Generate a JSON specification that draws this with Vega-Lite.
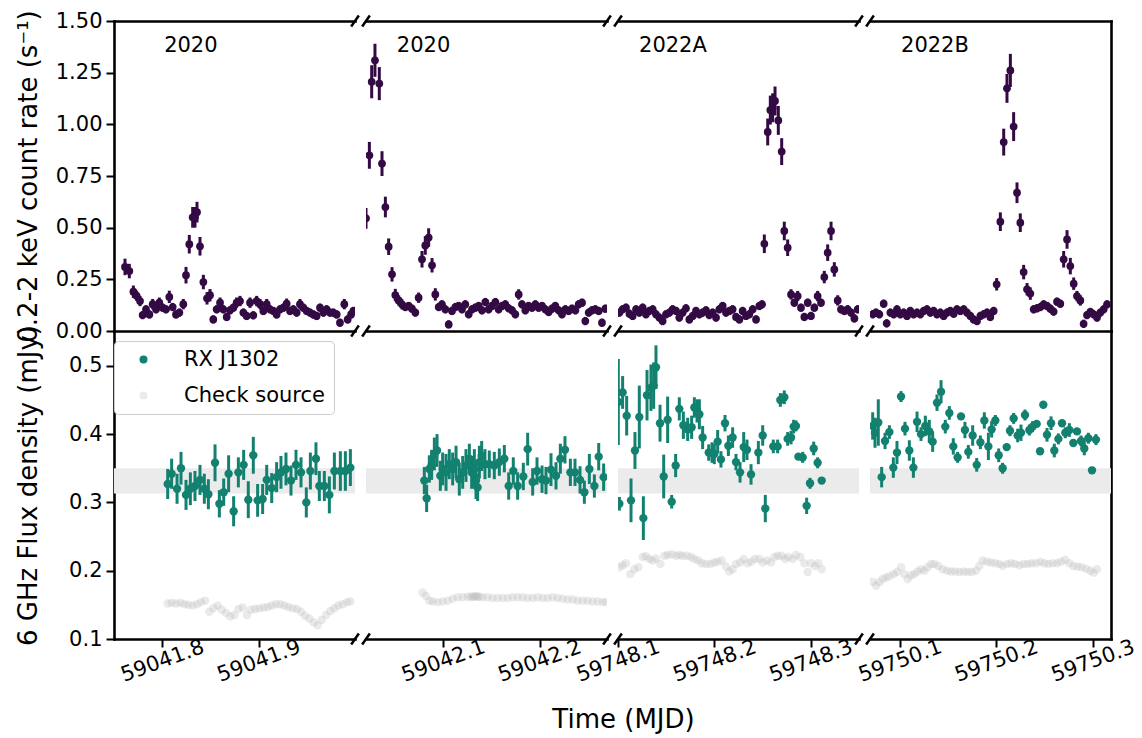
{
"$schema":"https://vega.github.io/schema/vega-lite/v6.json",
"padding":{"left":14,"top":9,"right":5,"bottom":5},
"background":"white",
"config":{
 "font":"DejaVu Sans",
 "view":{"stroke":null},
 "axis":{"grid":false,"domainColor":"black","domainWidth":2.6,"domainCap":"square","tickColor":"black","tickWidth":2,"tickSize":8,"labelColor":"black","labelFont":"DejaVu Sans","labelFontSize":21,"labelPadding":4,"labelFlush":false,"labelOverlap":false,"titleColor":"black","titleFont":"DejaVu Sans","titleFontSize":26,"titleFontWeight":"normal"}
},
"datasets":{
"xray":[
{"p":1,"t":59041.7614,"v":0.31,"e":0.04},{"p":1,"t":59041.7659,"v":0.29,"e":0.035},{"p":1,"t":59041.7701,"v":0.19,"e":0.03},{"p":1,"t":59041.7735,"v":0.17,"e":0.025},{"p":1,"t":59041.777,"v":0.145,"e":0.025},{"p":1,"t":59041.7797,"v":0.077,"e":0.02},{"p":1,"t":59041.7832,"v":0.105,"e":0.02},{"p":1,"t":59041.7867,"v":0.08,"e":0.02},{"p":1,"t":59041.7901,"v":0.13,"e":0.025},{"p":1,"t":59041.7936,"v":0.105,"e":0.02},{"p":1,"t":59041.797,"v":0.137,"e":0.025},{"p":1,"t":59041.8005,"v":0.113,"e":0.02},{"p":1,"t":59041.8039,"v":0.105,"e":0.02},{"p":1,"t":59041.8074,"v":0.165,"e":0.03},{"p":1,"t":59041.8109,"v":0.116,"e":0.02},{"p":1,"t":59041.8143,"v":0.08,"e":0.02},{"p":1,"t":59041.8178,"v":0.089,"e":0.02},{"p":1,"t":59041.8219,"v":0.13,"e":0.025},{"p":1,"t":59041.8247,"v":0.27,"e":0.04},{"p":1,"t":59041.8281,"v":0.42,"e":0.045},{"p":1,"t":59041.8316,"v":0.55,"e":0.05},{"p":1,"t":59041.834,"v":0.55,"e":0.05},{"p":1,"t":59041.8361,"v":0.575,"e":0.05},{"p":1,"t":59041.8392,"v":0.41,"e":0.045},{"p":1,"t":59041.8427,"v":0.237,"e":0.035},{"p":1,"t":59041.8465,"v":0.158,"e":0.03},{"p":1,"t":59041.8496,"v":0.173,"e":0.03},{"p":1,"t":59041.853,"v":0.056,"e":0.02},{"p":1,"t":59041.8565,"v":0.105,"e":0.02},{"p":1,"t":59041.86,"v":0.137,"e":0.025},{"p":1,"t":59041.8634,"v":0.105,"e":0.02},{"p":1,"t":59041.8669,"v":0.068,"e":0.02},{"p":1,"t":59041.8703,"v":0.1,"e":0.02},{"p":1,"t":59041.8738,"v":0.113,"e":0.02},{"p":1,"t":59041.8772,"v":0.137,"e":0.025},{"p":1,"t":59041.8807,"v":0.145,"e":0.025},{"p":1,"t":59041.8842,"v":0.089,"e":0.02},{"p":1,"t":59041.8876,"v":0.073,"e":0.02},{"p":1,"t":59041.8911,"v":0.137,"e":0.025},{"p":1,"t":59041.8945,"v":0.076,"e":0.02},{"p":1,"t":59041.898,"v":0.145,"e":0.025},{"p":1,"t":59041.9015,"v":0.13,"e":0.025},{"p":1,"t":59041.9049,"v":0.097,"e":0.02},{"p":1,"t":59041.9084,"v":0.13,"e":0.025},{"p":1,"t":59041.9118,"v":0.105,"e":0.02},{"p":1,"t":59041.9153,"v":0.097,"e":0.02},{"p":1,"t":59041.9187,"v":0.08,"e":0.02},{"p":1,"t":59041.9222,"v":0.105,"e":0.02},{"p":1,"t":59041.9257,"v":0.113,"e":0.02},{"p":1,"t":59041.9291,"v":0.132,"e":0.025},{"p":1,"t":59041.9326,"v":0.097,"e":0.02},{"p":1,"t":59041.936,"v":0.105,"e":0.02},{"p":1,"t":59041.9395,"v":0.089,"e":0.02},{"p":1,"t":59041.9429,"v":0.13,"e":0.025},{"p":1,"t":59041.9464,"v":0.113,"e":0.02},{"p":1,"t":59041.9499,"v":0.097,"e":0.02},{"p":1,"t":59041.9533,"v":0.089,"e":0.02},{"p":1,"t":59041.9568,"v":0.08,"e":0.02},{"p":1,"t":59041.9602,"v":0.073,"e":0.02},{"p":1,"t":59041.9637,"v":0.113,"e":0.02},{"p":1,"t":59041.9672,"v":0.089,"e":0.02},{"p":1,"t":59041.9706,"v":0.105,"e":0.02},{"p":1,"t":59041.9741,"v":0.089,"e":0.02},{"p":1,"t":59041.9775,"v":0.089,"e":0.02},{"p":1,"t":59041.981,"v":0.08,"e":0.02},{"p":1,"t":59041.9844,"v":0.04,"e":0.02},{"p":1,"t":59041.9889,"v":0.13,"e":0.025},{"p":1,"t":59041.9924,"v":0.056,"e":0.02},{"p":1,"t":59041.9959,"v":0.08,"e":0.02},{"p":1,"t":59041.9983,"v":0.097,"e":0.02},
{"p":2,"t":59042.02,"v":0.545,"e":0.05},{"p":2,"t":59042.0235,"v":0.85,"e":0.065},{"p":2,"t":59042.0259,"v":1.206,"e":0.08},{"p":2,"t":59042.0293,"v":1.31,"e":0.08},{"p":2,"t":59042.0338,"v":1.197,"e":0.08},{"p":2,"t":59042.0366,"v":0.81,"e":0.06},{"p":2,"t":59042.0401,"v":0.6,"e":0.05},{"p":2,"t":59042.0435,"v":0.408,"e":0.04},{"p":2,"t":59042.047,"v":0.274,"e":0.035},{"p":2,"t":59042.0504,"v":0.174,"e":0.03},{"p":2,"t":59042.0539,"v":0.148,"e":0.025},{"p":2,"t":59042.0573,"v":0.129,"e":0.025},{"p":2,"t":59042.0608,"v":0.116,"e":0.02},{"p":2,"t":59042.0643,"v":0.121,"e":0.02},{"p":2,"t":59042.0677,"v":0.108,"e":0.02},{"p":2,"t":59042.0712,"v":0.089,"e":0.02},{"p":2,"t":59042.0746,"v":0.161,"e":0.025},{"p":2,"t":59042.0781,"v":0.347,"e":0.04},{"p":2,"t":59042.0815,"v":0.414,"e":0.045},{"p":2,"t":59042.085,"v":0.452,"e":0.045},{"p":2,"t":59042.0885,"v":0.318,"e":0.035},{"p":2,"t":59042.0919,"v":0.177,"e":0.03},{"p":2,"t":59042.0954,"v":0.116,"e":0.02},{"p":2,"t":59042.0988,"v":0.129,"e":0.02},{"p":2,"t":59042.1023,"v":0.105,"e":0.02},{"p":2,"t":59042.1058,"v":0.032,"e":0.02},{"p":2,"t":59042.1092,"v":0.097,"e":0.02},{"p":2,"t":59042.1127,"v":0.116,"e":0.02},{"p":2,"t":59042.1161,"v":0.121,"e":0.02},{"p":2,"t":59042.1196,"v":0.105,"e":0.02},{"p":2,"t":59042.123,"v":0.129,"e":0.02},{"p":2,"t":59042.1265,"v":0.081,"e":0.02},{"p":2,"t":59042.13,"v":0.105,"e":0.02},{"p":2,"t":59042.1334,"v":0.113,"e":0.02},{"p":2,"t":59042.1369,"v":0.121,"e":0.02},{"p":2,"t":59042.1403,"v":0.1,"e":0.02},{"p":2,"t":59042.1438,"v":0.14,"e":0.02},{"p":2,"t":59042.1472,"v":0.105,"e":0.02},{"p":2,"t":59042.1507,"v":0.121,"e":0.02},{"p":2,"t":59042.1542,"v":0.14,"e":0.02},{"p":2,"t":59042.1576,"v":0.105,"e":0.02},{"p":2,"t":59042.1611,"v":0.121,"e":0.02},{"p":2,"t":59042.1645,"v":0.129,"e":0.02},{"p":2,"t":59042.168,"v":0.11,"e":0.02},{"p":2,"t":59042.1715,"v":0.1,"e":0.02},{"p":2,"t":59042.1749,"v":0.081,"e":0.02},{"p":2,"t":59042.1784,"v":0.177,"e":0.025},{"p":2,"t":59042.1818,"v":0.129,"e":0.02},{"p":2,"t":59042.1853,"v":0.1,"e":0.02},{"p":2,"t":59042.1887,"v":0.121,"e":0.02},{"p":2,"t":59042.1922,"v":0.113,"e":0.02},{"p":2,"t":59042.1957,"v":0.129,"e":0.02},{"p":2,"t":59042.1991,"v":0.113,"e":0.02},{"p":2,"t":59042.2026,"v":0.121,"e":0.02},{"p":2,"t":59042.206,"v":0.105,"e":0.02},{"p":2,"t":59042.2095,"v":0.092,"e":0.02},{"p":2,"t":59042.2129,"v":0.108,"e":0.02},{"p":2,"t":59042.2164,"v":0.121,"e":0.02},{"p":2,"t":59042.2199,"v":0.1,"e":0.02},{"p":2,"t":59042.2233,"v":0.081,"e":0.02},{"p":2,"t":59042.2268,"v":0.105,"e":0.02},{"p":2,"t":59042.2302,"v":0.097,"e":0.02},{"p":2,"t":59042.2337,"v":0.108,"e":0.02},{"p":2,"t":59042.2372,"v":0.1,"e":0.02},{"p":2,"t":59042.2406,"v":0.129,"e":0.02},{"p":2,"t":59042.2441,"v":0.137,"e":0.02},{"p":2,"t":59042.2475,"v":0.048,"e":0.02},{"p":2,"t":59042.251,"v":0.089,"e":0.02},{"p":2,"t":59042.2544,"v":0.1,"e":0.02},{"p":2,"t":59042.2579,"v":0.105,"e":0.02},{"p":2,"t":59042.2614,"v":0.097,"e":0.02},{"p":2,"t":59042.2648,"v":0.04,"e":0.02},{"p":2,"t":59042.2683,"v":0.108,"e":0.02},
{"p":3,"t":59748.1014,"v":0.089,"e":0.02},{"p":3,"t":59748.1048,"v":0.105,"e":0.02},{"p":3,"t":59748.1083,"v":0.113,"e":0.02},{"p":3,"t":59748.1118,"v":0.084,"e":0.02},{"p":3,"t":59748.1152,"v":0.073,"e":0.02},{"p":3,"t":59748.1187,"v":0.105,"e":0.02},{"p":3,"t":59748.1221,"v":0.089,"e":0.02},{"p":3,"t":59748.1256,"v":0.113,"e":0.02},{"p":3,"t":59748.129,"v":0.081,"e":0.02},{"p":3,"t":59748.1325,"v":0.097,"e":0.02},{"p":3,"t":59748.136,"v":0.105,"e":0.02},{"p":3,"t":59748.1394,"v":0.081,"e":0.02},{"p":3,"t":59748.1429,"v":0.065,"e":0.02},{"p":3,"t":59748.1463,"v":0.048,"e":0.02},{"p":3,"t":59748.1498,"v":0.081,"e":0.02},{"p":3,"t":59748.1533,"v":0.089,"e":0.02},{"p":3,"t":59748.1567,"v":0.105,"e":0.02},{"p":3,"t":59748.1602,"v":0.097,"e":0.02},{"p":3,"t":59748.1636,"v":0.065,"e":0.02},{"p":3,"t":59748.1671,"v":0.089,"e":0.02},{"p":3,"t":59748.1705,"v":0.11,"e":0.02},{"p":3,"t":59748.174,"v":0.056,"e":0.02},{"p":3,"t":59748.1775,"v":0.073,"e":0.02},{"p":3,"t":59748.1809,"v":0.097,"e":0.02},{"p":3,"t":59748.1844,"v":0.081,"e":0.02},{"p":3,"t":59748.1878,"v":0.089,"e":0.02},{"p":3,"t":59748.1913,"v":0.1,"e":0.02},{"p":3,"t":59748.1947,"v":0.077,"e":0.02},{"p":3,"t":59748.1982,"v":0.089,"e":0.02},{"p":3,"t":59748.2017,"v":0.065,"e":0.02},{"p":3,"t":59748.2051,"v":0.105,"e":0.02},{"p":3,"t":59748.2086,"v":0.121,"e":0.02},{"p":3,"t":59748.212,"v":0.089,"e":0.02},{"p":3,"t":59748.2155,"v":0.097,"e":0.02},{"p":3,"t":59748.2189,"v":0.105,"e":0.02},{"p":3,"t":59748.2224,"v":0.068,"e":0.02},{"p":3,"t":59748.2259,"v":0.056,"e":0.02},{"p":3,"t":59748.2293,"v":0.097,"e":0.02},{"p":3,"t":59748.2328,"v":0.073,"e":0.02},{"p":3,"t":59748.2362,"v":0.081,"e":0.02},{"p":3,"t":59748.2397,"v":0.105,"e":0.02},{"p":3,"t":59748.2432,"v":0.056,"e":0.02},{"p":3,"t":59748.2466,"v":0.121,"e":0.02},{"p":3,"t":59748.2494,"v":0.129,"e":0.02},{"p":3,"t":59748.2518,"v":0.422,"e":0.045},{"p":3,"t":59748.2553,"v":0.963,"e":0.065},{"p":3,"t":59748.258,"v":1.069,"e":0.07},{"p":3,"t":59748.2604,"v":1.08,"e":0.07},{"p":3,"t":59748.2629,"v":1.113,"e":0.07},{"p":3,"t":59748.2663,"v":1.019,"e":0.07},{"p":3,"t":59748.2698,"v":0.868,"e":0.065},{"p":3,"t":59748.2725,"v":0.484,"e":0.045},{"p":3,"t":59748.276,"v":0.403,"e":0.04},{"p":3,"t":59748.2795,"v":0.177,"e":0.025},{"p":3,"t":59748.2829,"v":0.137,"e":0.02},{"p":3,"t":59748.2864,"v":0.169,"e":0.025},{"p":3,"t":59748.2898,"v":0.113,"e":0.02},{"p":3,"t":59748.2933,"v":0.068,"e":0.02},{"p":3,"t":59748.2968,"v":0.137,"e":0.02},{"p":3,"t":59748.3002,"v":0.073,"e":0.02},{"p":3,"t":59748.3037,"v":0.113,"e":0.02},{"p":3,"t":59748.3071,"v":0.169,"e":0.025},{"p":3,"t":59748.3106,"v":0.137,"e":0.02},{"p":3,"t":59748.314,"v":0.261,"e":0.03},{"p":3,"t":59748.3175,"v":0.379,"e":0.04},{"p":3,"t":59748.321,"v":0.484,"e":0.045},{"p":3,"t":59748.3244,"v":0.298,"e":0.035},{"p":3,"t":59748.3279,"v":0.148,"e":0.025},{"p":3,"t":59748.3313,"v":0.105,"e":0.02},{"p":3,"t":59748.3348,"v":0.097,"e":0.02},{"p":3,"t":59748.3382,"v":0.105,"e":0.02},{"p":3,"t":59748.3417,"v":0.089,"e":0.02},{"p":3,"t":59748.3452,"v":0.061,"e":0.02},{"p":3,"t":59748.3486,"v":0.105,"e":0.02},
{"p":4,"t":59750.0718,"v":0.081,"e":0.02},{"p":4,"t":59750.0752,"v":0.089,"e":0.02},{"p":4,"t":59750.0787,"v":0.081,"e":0.02},{"p":4,"t":59750.0832,"v":0.132,"e":0.02},{"p":4,"t":59750.0863,"v":0.037,"e":0.02},{"p":4,"t":59750.0901,"v":0.089,"e":0.02},{"p":4,"t":59750.0936,"v":0.081,"e":0.02},{"p":4,"t":59750.097,"v":0.105,"e":0.02},{"p":4,"t":59750.1005,"v":0.081,"e":0.02},{"p":4,"t":59750.1039,"v":0.089,"e":0.02},{"p":4,"t":59750.1074,"v":0.073,"e":0.02},{"p":4,"t":59750.1108,"v":0.097,"e":0.02},{"p":4,"t":59750.1143,"v":0.081,"e":0.02},{"p":4,"t":59750.1178,"v":0.089,"e":0.02},{"p":4,"t":59750.1212,"v":0.081,"e":0.02},{"p":4,"t":59750.1247,"v":0.097,"e":0.02},{"p":4,"t":59750.1281,"v":0.105,"e":0.02},{"p":4,"t":59750.1316,"v":0.089,"e":0.02},{"p":4,"t":59750.135,"v":0.097,"e":0.02},{"p":4,"t":59750.1385,"v":0.081,"e":0.02},{"p":4,"t":59750.142,"v":0.089,"e":0.02},{"p":4,"t":59750.1454,"v":0.073,"e":0.02},{"p":4,"t":59750.1489,"v":0.089,"e":0.02},{"p":4,"t":59750.1523,"v":0.097,"e":0.02},{"p":4,"t":59750.1558,"v":0.084,"e":0.02},{"p":4,"t":59750.1592,"v":0.105,"e":0.02},{"p":4,"t":59750.1627,"v":0.097,"e":0.02},{"p":4,"t":59750.1662,"v":0.105,"e":0.02},{"p":4,"t":59750.1696,"v":0.089,"e":0.02},{"p":4,"t":59750.1731,"v":0.073,"e":0.02},{"p":4,"t":59750.1765,"v":0.056,"e":0.02},{"p":4,"t":59750.18,"v":0.048,"e":0.02},{"p":4,"t":59750.1835,"v":0.073,"e":0.02},{"p":4,"t":59750.1869,"v":0.081,"e":0.02},{"p":4,"t":59750.1904,"v":0.089,"e":0.02},{"p":4,"t":59750.1938,"v":0.068,"e":0.02},{"p":4,"t":59750.1973,"v":0.097,"e":0.02},{"p":4,"t":59750.2004,"v":0.226,"e":0.03},{"p":4,"t":59750.2042,"v":0.529,"e":0.045},{"p":4,"t":59750.2077,"v":0.914,"e":0.065},{"p":4,"t":59750.2111,"v":1.174,"e":0.07},{"p":4,"t":59750.2146,"v":1.261,"e":0.08},{"p":4,"t":59750.218,"v":0.989,"e":0.07},{"p":4,"t":59750.2215,"v":0.669,"e":0.05},{"p":4,"t":59750.2249,"v":0.524,"e":0.045},{"p":4,"t":59750.2284,"v":0.285,"e":0.035},{"p":4,"t":59750.2319,"v":0.202,"e":0.03},{"p":4,"t":59750.2353,"v":0.181,"e":0.03},{"p":4,"t":59750.2388,"v":0.105,"e":0.02},{"p":4,"t":59750.2422,"v":0.11,"e":0.02},{"p":4,"t":59750.2457,"v":0.116,"e":0.02},{"p":4,"t":59750.2492,"v":0.129,"e":0.02},{"p":4,"t":59750.2526,"v":0.121,"e":0.02},{"p":4,"t":59750.2561,"v":0.108,"e":0.02},{"p":4,"t":59750.2595,"v":0.094,"e":0.02},{"p":4,"t":59750.263,"v":0.142,"e":0.02},{"p":4,"t":59750.2664,"v":0.132,"e":0.02},{"p":4,"t":59750.2699,"v":0.347,"e":0.04},{"p":4,"t":59750.2734,"v":0.443,"e":0.045},{"p":4,"t":59750.2768,"v":0.314,"e":0.04},{"p":4,"t":59750.2803,"v":0.229,"e":0.03},{"p":4,"t":59750.2837,"v":0.169,"e":0.025},{"p":4,"t":59750.2872,"v":0.148,"e":0.025},{"p":4,"t":59750.2906,"v":0.035,"e":0.02},{"p":4,"t":59750.2941,"v":0.077,"e":0.02},{"p":4,"t":59750.2976,"v":0.092,"e":0.02},{"p":4,"t":59750.301,"v":0.081,"e":0.02},{"p":4,"t":59750.3045,"v":0.065,"e":0.02},{"p":4,"t":59750.3079,"v":0.089,"e":0.02},{"p":4,"t":59750.3114,"v":0.105,"e":0.02},{"p":4,"t":59750.3149,"v":0.129,"e":0.02}
],
"radio":[
{"p":1,"t":59041.8057,"v":0.327,"e":0.022},{"p":1,"t":59041.8098,"v":0.342,"e":0.022},{"p":1,"t":59041.8154,"v":0.32,"e":0.022},{"p":1,"t":59041.8195,"v":0.35,"e":0.024},{"p":1,"t":59041.8247,"v":0.311,"e":0.022},{"p":1,"t":59041.8292,"v":0.32,"e":0.024},{"p":1,"t":59041.834,"v":0.324,"e":0.022},{"p":1,"t":59041.8392,"v":0.333,"e":0.022},{"p":1,"t":59041.8437,"v":0.32,"e":0.022},{"p":1,"t":59041.8479,"v":0.312,"e":0.022},{"p":1,"t":59041.8548,"v":0.358,"e":0.027},{"p":1,"t":59041.8593,"v":0.298,"e":0.02},{"p":1,"t":59041.8638,"v":0.315,"e":0.02},{"p":1,"t":59041.8689,"v":0.342,"e":0.027},{"p":1,"t":59041.8741,"v":0.287,"e":0.022},{"p":1,"t":59041.879,"v":0.344,"e":0.022},{"p":1,"t":59041.8845,"v":0.355,"e":0.022},{"p":1,"t":59041.8893,"v":0.304,"e":0.027},{"p":1,"t":59041.8945,"v":0.369,"e":0.027},{"p":1,"t":59041.899,"v":0.303,"e":0.024},{"p":1,"t":59041.9042,"v":0.305,"e":0.022},{"p":1,"t":59041.9084,"v":0.333,"e":0.022},{"p":1,"t":59041.9136,"v":0.321,"e":0.022},{"p":1,"t":59041.9187,"v":0.337,"e":0.022},{"p":1,"t":59041.9232,"v":0.344,"e":0.024},{"p":1,"t":59041.9284,"v":0.349,"e":0.024},{"p":1,"t":59041.9336,"v":0.332,"e":0.022},{"p":1,"t":59041.9388,"v":0.355,"e":0.022},{"p":1,"t":59041.944,"v":0.344,"e":0.022},{"p":1,"t":59041.9495,"v":0.3,"e":0.022},{"p":1,"t":59041.9537,"v":0.346,"e":0.027},{"p":1,"t":59041.9595,"v":0.364,"e":0.024},{"p":1,"t":59041.963,"v":0.324,"e":0.022},{"p":1,"t":59041.9682,"v":0.324,"e":0.022},{"p":1,"t":59041.9734,"v":0.311,"e":0.027},{"p":1,"t":59041.9786,"v":0.346,"e":0.027},{"p":1,"t":59041.9848,"v":0.346,"e":0.029},{"p":1,"t":59041.99,"v":0.346,"e":0.029},{"p":1,"t":59041.9952,"v":0.351,"e":0.027},
{"p":2,"t":59042.0805,"v":0.332,"e":0.02},{"p":2,"t":59042.0829,"v":0.306,"e":0.02},{"p":2,"t":59042.0857,"v":0.349,"e":0.02},{"p":2,"t":59042.0881,"v":0.355,"e":0.022},{"p":2,"t":59042.0909,"v":0.371,"e":0.024},{"p":2,"t":59042.0937,"v":0.376,"e":0.024},{"p":2,"t":59042.0971,"v":0.339,"e":0.022},{"p":2,"t":59042.0995,"v":0.349,"e":0.024},{"p":2,"t":59042.103,"v":0.344,"e":0.027},{"p":2,"t":59042.1064,"v":0.356,"e":0.022},{"p":2,"t":59042.1099,"v":0.349,"e":0.024},{"p":2,"t":59042.1134,"v":0.359,"e":0.024},{"p":2,"t":59042.1168,"v":0.334,"e":0.024},{"p":2,"t":59042.1203,"v":0.344,"e":0.024},{"p":2,"t":59042.1237,"v":0.354,"e":0.024},{"p":2,"t":59042.1272,"v":0.364,"e":0.022},{"p":2,"t":59042.1296,"v":0.344,"e":0.024},{"p":2,"t":59042.1324,"v":0.349,"e":0.029},{"p":2,"t":59042.1341,"v":0.332,"e":0.027},{"p":2,"t":59042.1358,"v":0.322,"e":0.02},{"p":2,"t":59042.1376,"v":0.359,"e":0.024},{"p":2,"t":59042.14,"v":0.368,"e":0.022},{"p":2,"t":59042.1434,"v":0.356,"e":0.022},{"p":2,"t":59042.1479,"v":0.356,"e":0.02},{"p":2,"t":59042.1531,"v":0.354,"e":0.02},{"p":2,"t":59042.1583,"v":0.359,"e":0.02},{"p":2,"t":59042.1635,"v":0.364,"e":0.02},{"p":2,"t":59042.168,"v":0.324,"e":0.02},{"p":2,"t":59042.1728,"v":0.346,"e":0.02},{"p":2,"t":59042.1773,"v":0.324,"e":0.02},{"p":2,"t":59042.1832,"v":0.338,"e":0.02},{"p":2,"t":59042.1877,"v":0.378,"e":0.024},{"p":2,"t":59042.1929,"v":0.33,"e":0.02},{"p":2,"t":59042.1974,"v":0.346,"e":0.02},{"p":2,"t":59042.2026,"v":0.334,"e":0.02},{"p":2,"t":59042.2067,"v":0.332,"e":0.02},{"p":2,"t":59042.2119,"v":0.348,"e":0.024},{"p":2,"t":59042.2171,"v":0.339,"e":0.02},{"p":2,"t":59042.2216,"v":0.364,"e":0.022},{"p":2,"t":59042.2264,"v":0.377,"e":0.02},{"p":2,"t":59042.232,"v":0.344,"e":0.02},{"p":2,"t":59042.2368,"v":0.344,"e":0.02},{"p":2,"t":59042.242,"v":0.333,"e":0.02},{"p":2,"t":59042.2465,"v":0.315,"e":0.017},{"p":2,"t":59042.2517,"v":0.349,"e":0.022},{"p":2,"t":59042.2569,"v":0.324,"e":0.017},{"p":2,"t":59042.2614,"v":0.367,"e":0.02},{"p":2,"t":59042.2665,"v":0.337,"e":0.02},
{"p":3,"t":59748.1003,"v":0.447,"e":0.063},{"p":3,"t":59748.1014,"v":0.298,"e":0.01},{"p":3,"t":59748.1048,"v":0.461,"e":0.024},{"p":3,"t":59748.109,"v":0.427,"e":0.029},{"p":3,"t":59748.1135,"v":0.303,"e":0.032},{"p":3,"t":59748.1176,"v":0.376,"e":0.027},{"p":3,"t":59748.1221,"v":0.425,"e":0.046},{"p":3,"t":59748.1263,"v":0.277,"e":0.032},{"p":3,"t":59748.1301,"v":0.457,"e":0.037},{"p":3,"t":59748.1342,"v":0.468,"e":0.034},{"p":3,"t":59748.137,"v":0.471,"e":0.034},{"p":3,"t":59748.1394,"v":0.498,"e":0.032},{"p":3,"t":59748.1436,"v":0.416,"e":0.027},{"p":3,"t":59748.1474,"v":0.338,"e":0.032},{"p":3,"t":59748.1515,"v":0.421,"e":0.034},{"p":3,"t":59748.1557,"v":0.301,"e":0.01},{"p":3,"t":59748.1598,"v":0.354,"e":0.017},{"p":3,"t":59748.1636,"v":0.437,"e":0.017},{"p":3,"t":59748.1678,"v":0.413,"e":0.02},{"p":3,"t":59748.1723,"v":0.407,"e":0.017},{"p":3,"t":59748.1764,"v":0.41,"e":0.017},{"p":3,"t":59748.1792,"v":0.439,"e":0.015},{"p":3,"t":59748.182,"v":0.434,"e":0.017},{"p":3,"t":59748.1844,"v":0.429,"e":0.022},{"p":3,"t":59748.1878,"v":0.395,"e":0.017},{"p":3,"t":59748.1941,"v":0.373,"e":0.012},{"p":3,"t":59748.1975,"v":0.373,"e":0.015},{"p":3,"t":59748.1999,"v":0.371,"e":0.015},{"p":3,"t":59748.2034,"v":0.389,"e":0.017},{"p":3,"t":59748.2068,"v":0.363,"e":0.012},{"p":3,"t":59748.211,"v":0.416,"e":0.012},{"p":3,"t":59748.2145,"v":0.383,"e":0.015},{"p":3,"t":59748.2189,"v":0.395,"e":0.015},{"p":3,"t":59748.2224,"v":0.359,"e":0.012},{"p":3,"t":59748.2266,"v":0.344,"e":0.015},{"p":3,"t":59748.2304,"v":0.381,"e":0.022},{"p":3,"t":59748.2338,"v":0.377,"e":0.015},{"p":3,"t":59748.238,"v":0.341,"e":0.015},{"p":3,"t":59748.2456,"v":0.373,"e":0.017},{"p":3,"t":59748.2501,"v":0.398,"e":0.015},{"p":3,"t":59748.2528,"v":0.291,"e":0.02},{"p":3,"t":59748.2611,"v":0.382,"e":0.01},{"p":3,"t":59748.2656,"v":0.382,"e":0.01},{"p":3,"t":59748.2684,"v":0.45,"e":0.01},{"p":3,"t":59748.2725,"v":0.454,"e":0.01},{"p":3,"t":59748.276,"v":0.393,"e":0.01},{"p":3,"t":59748.2795,"v":0.395,"e":0.01},{"p":3,"t":59748.2822,"v":0.411,"e":0.01},{"p":3,"t":59748.2846,"v":0.412,"e":0.008},{"p":3,"t":59748.2871,"v":0.367,"e":0.005},{"p":3,"t":59748.2916,"v":0.366,"e":0.008},{"p":3,"t":59748.2957,"v":0.295,"e":0.012},{"p":3,"t":59748.2992,"v":0.328,"e":0.008},{"p":3,"t":59748.303,"v":0.379,"e":0.01},{"p":3,"t":59748.3071,"v":0.358,"e":0.008},{"p":3,"t":59748.3113,"v":0.332,"e":0.005},
{"p":4,"t":59750.0718,"v":0.412,"e":0.02},{"p":4,"t":59750.0742,"v":0.402,"e":0.022},{"p":4,"t":59750.0776,"v":0.417,"e":0.034},{"p":4,"t":59750.0811,"v":0.337,"e":0.015},{"p":4,"t":59750.0846,"v":0.39,"e":0.012},{"p":4,"t":59750.0891,"v":0.403,"e":0.01},{"p":4,"t":59750.0932,"v":0.351,"e":0.015},{"p":4,"t":59750.097,"v":0.373,"e":0.017},{"p":4,"t":59750.1012,"v":0.455,"e":0.008},{"p":4,"t":59750.1053,"v":0.408,"e":0.01},{"p":4,"t":59750.1098,"v":0.376,"e":0.015},{"p":4,"t":59750.114,"v":0.351,"e":0.015},{"p":4,"t":59750.1178,"v":0.418,"e":0.015},{"p":4,"t":59750.1219,"v":0.4,"e":0.01},{"p":4,"t":59750.1264,"v":0.412,"e":0.015},{"p":4,"t":59750.1305,"v":0.404,"e":0.017},{"p":4,"t":59750.134,"v":0.389,"e":0.015},{"p":4,"t":59750.1385,"v":0.446,"e":0.012},{"p":4,"t":59750.1427,"v":0.462,"e":0.017},{"p":4,"t":59750.1471,"v":0.411,"e":0.01},{"p":4,"t":59750.1513,"v":0.431,"e":0.01},{"p":4,"t":59750.1554,"v":0.382,"e":0.012},{"p":4,"t":59750.1599,"v":0.366,"e":0.008},{"p":4,"t":59750.1634,"v":0.426,"e":0.005},{"p":4,"t":59750.1675,"v":0.406,"e":0.012},{"p":4,"t":59750.171,"v":0.374,"e":0.01},{"p":4,"t":59750.1755,"v":0.398,"e":0.015},{"p":4,"t":59750.1797,"v":0.355,"e":0.01},{"p":4,"t":59750.1835,"v":0.388,"e":0.01},{"p":4,"t":59750.1876,"v":0.42,"e":0.012},{"p":4,"t":59750.1918,"v":0.382,"e":0.02},{"p":4,"t":59750.1952,"v":0.407,"e":0.012},{"p":4,"t":59750.199,"v":0.42,"e":0.008},{"p":4,"t":59750.2025,"v":0.369,"e":0.01},{"p":4,"t":59750.2066,"v":0.35,"e":0.008},{"p":4,"t":59750.2108,"v":0.381,"e":0.005},{"p":4,"t":59750.2142,"v":0.405,"e":0.008},{"p":4,"t":59750.218,"v":0.423,"e":0.008},{"p":4,"t":59750.2222,"v":0.398,"e":0.01},{"p":4,"t":59750.2256,"v":0.402,"e":0.012},{"p":4,"t":59750.2298,"v":0.428,"e":0.008},{"p":4,"t":59750.2343,"v":0.406,"e":0.008},{"p":4,"t":59750.2377,"v":0.411,"e":0.008},{"p":4,"t":59750.2419,"v":0.415,"e":0.005},{"p":4,"t":59750.2454,"v":0.375,"e":0.005},{"p":4,"t":59750.2488,"v":0.443,"e":0.005},{"p":4,"t":59750.2526,"v":0.399,"e":0.01},{"p":4,"t":59750.2568,"v":0.416,"e":0.01},{"p":4,"t":59750.2602,"v":0.376,"e":0.01},{"p":4,"t":59750.2644,"v":0.393,"e":0.008},{"p":4,"t":59750.2682,"v":0.416,"e":0.005},{"p":4,"t":59750.2716,"v":0.402,"e":0.008},{"p":4,"t":59750.2758,"v":0.406,"e":0.01},{"p":4,"t":59750.2799,"v":0.387,"e":0.005},{"p":4,"t":59750.2837,"v":0.404,"e":0.005},{"p":4,"t":59750.2879,"v":0.39,"e":0.008},{"p":4,"t":59750.2913,"v":0.379,"e":0.01},{"p":4,"t":59750.2955,"v":0.394,"e":0.008},{"p":4,"t":59750.2993,"v":0.347,"e":0.005},{"p":4,"t":59750.3034,"v":0.392,"e":0.008}
],
"check":[
{"p":1,"t":59041.8057,"v":0.152},{"p":1,"t":59041.8098,"v":0.153},{"p":1,"t":59041.8143,"v":0.152},{"p":1,"t":59041.8188,"v":0.153},{"p":1,"t":59041.823,"v":0.151},{"p":1,"t":59041.8271,"v":0.15},{"p":1,"t":59041.8316,"v":0.149},{"p":1,"t":59041.8361,"v":0.151},{"p":1,"t":59041.8402,"v":0.154},{"p":1,"t":59041.8444,"v":0.156},{"p":1,"t":59041.8489,"v":0.14},{"p":1,"t":59041.853,"v":0.145},{"p":1,"t":59041.8575,"v":0.149},{"p":1,"t":59041.8617,"v":0.143},{"p":1,"t":59041.8662,"v":0.138},{"p":1,"t":59041.8707,"v":0.133},{"p":1,"t":59041.8748,"v":0.135},{"p":1,"t":59041.879,"v":0.144},{"p":1,"t":59041.8835,"v":0.146},{"p":1,"t":59041.888,"v":0.135},{"p":1,"t":59041.8921,"v":0.143},{"p":1,"t":59041.8963,"v":0.144},{"p":1,"t":59041.9008,"v":0.145},{"p":1,"t":59041.9053,"v":0.146},{"p":1,"t":59041.9094,"v":0.147},{"p":1,"t":59041.9136,"v":0.149},{"p":1,"t":59041.918,"v":0.151},{"p":1,"t":59041.9225,"v":0.151},{"p":1,"t":59041.9267,"v":0.149},{"p":1,"t":59041.9308,"v":0.147},{"p":1,"t":59041.9353,"v":0.145},{"p":1,"t":59041.9398,"v":0.144},{"p":1,"t":59041.944,"v":0.14},{"p":1,"t":59041.9481,"v":0.134},{"p":1,"t":59041.9526,"v":0.13},{"p":1,"t":59041.9571,"v":0.124},{"p":1,"t":59041.9613,"v":0.12},{"p":1,"t":59041.9654,"v":0.128},{"p":1,"t":59041.9699,"v":0.135},{"p":1,"t":59041.9744,"v":0.141},{"p":1,"t":59041.9786,"v":0.145},{"p":1,"t":59041.9827,"v":0.149},{"p":1,"t":59041.9872,"v":0.151},{"p":1,"t":59041.9917,"v":0.154},{"p":1,"t":59041.9952,"v":0.155},
{"p":2,"t":59042.0788,"v":0.168},{"p":2,"t":59042.0822,"v":0.163},{"p":2,"t":59042.0857,"v":0.156},{"p":2,"t":59042.0892,"v":0.155},{"p":2,"t":59042.0943,"v":0.154},{"p":2,"t":59042.0995,"v":0.155},{"p":2,"t":59042.1047,"v":0.156},{"p":2,"t":59042.1099,"v":0.159},{"p":2,"t":59042.1151,"v":0.161},{"p":2,"t":59042.1203,"v":0.161},{"p":2,"t":59042.1255,"v":0.162},{"p":2,"t":59042.1289,"v":0.162},{"p":2,"t":59042.1307,"v":0.162},{"p":2,"t":59042.1324,"v":0.162},{"p":2,"t":59042.1341,"v":0.163},{"p":2,"t":59042.1358,"v":0.162},{"p":2,"t":59042.1376,"v":0.162},{"p":2,"t":59042.141,"v":0.161},{"p":2,"t":59042.1462,"v":0.161},{"p":2,"t":59042.1514,"v":0.16},{"p":2,"t":59042.1566,"v":0.16},{"p":2,"t":59042.1618,"v":0.16},{"p":2,"t":59042.167,"v":0.16},{"p":2,"t":59042.1721,"v":0.161},{"p":2,"t":59042.1773,"v":0.161},{"p":2,"t":59042.1825,"v":0.161},{"p":2,"t":59042.1877,"v":0.16},{"p":2,"t":59042.1929,"v":0.16},{"p":2,"t":59042.1981,"v":0.161},{"p":2,"t":59042.2033,"v":0.16},{"p":2,"t":59042.2085,"v":0.16},{"p":2,"t":59042.2136,"v":0.161},{"p":2,"t":59042.2188,"v":0.16},{"p":2,"t":59042.224,"v":0.159},{"p":2,"t":59042.2292,"v":0.158},{"p":2,"t":59042.2344,"v":0.158},{"p":2,"t":59042.2396,"v":0.156},{"p":2,"t":59042.2448,"v":0.156},{"p":2,"t":59042.2499,"v":0.156},{"p":2,"t":59042.2551,"v":0.155},{"p":2,"t":59042.2603,"v":0.155},{"p":2,"t":59042.2655,"v":0.154},{"p":2,"t":59042.269,"v":0.154},
{"p":3,"t":59748.1014,"v":0.205},{"p":3,"t":59748.1048,"v":0.208},{"p":3,"t":59748.1083,"v":0.211},{"p":3,"t":59748.1128,"v":0.195},{"p":3,"t":59748.1169,"v":0.202},{"p":3,"t":59748.1211,"v":0.205},{"p":3,"t":59748.1256,"v":0.22},{"p":3,"t":59748.129,"v":0.221},{"p":3,"t":59748.1325,"v":0.217},{"p":3,"t":59748.136,"v":0.215},{"p":3,"t":59748.1394,"v":0.218},{"p":3,"t":59748.1439,"v":0.21},{"p":3,"t":59748.1481,"v":0.222},{"p":3,"t":59748.1515,"v":0.223},{"p":3,"t":59748.1557,"v":0.224},{"p":3,"t":59748.1602,"v":0.222},{"p":3,"t":59748.1636,"v":0.223},{"p":3,"t":59748.1671,"v":0.222},{"p":3,"t":59748.1716,"v":0.222},{"p":3,"t":59748.1757,"v":0.22},{"p":3,"t":59748.1792,"v":0.217},{"p":3,"t":59748.1833,"v":0.215},{"p":3,"t":59748.1868,"v":0.211},{"p":3,"t":59748.1913,"v":0.21},{"p":3,"t":59748.1958,"v":0.21},{"p":3,"t":59748.1999,"v":0.212},{"p":3,"t":59748.2034,"v":0.213},{"p":3,"t":59748.2075,"v":0.215},{"p":3,"t":59748.212,"v":0.206},{"p":3,"t":59748.2155,"v":0.199},{"p":3,"t":59748.2189,"v":0.202},{"p":3,"t":59748.2224,"v":0.21},{"p":3,"t":59748.2269,"v":0.212},{"p":3,"t":59748.2304,"v":0.217},{"p":3,"t":59748.2345,"v":0.211},{"p":3,"t":59748.238,"v":0.213},{"p":3,"t":59748.2421,"v":0.217},{"p":3,"t":59748.2466,"v":0.217},{"p":3,"t":59748.2501,"v":0.212},{"p":3,"t":59748.2546,"v":0.215},{"p":3,"t":59748.2587,"v":0.212},{"p":3,"t":59748.2622,"v":0.22},{"p":3,"t":59748.2656,"v":0.222},{"p":3,"t":59748.2698,"v":0.222},{"p":3,"t":59748.2732,"v":0.217},{"p":3,"t":59748.2767,"v":0.22},{"p":3,"t":59748.2812,"v":0.217},{"p":3,"t":59748.2846,"v":0.223},{"p":3,"t":59748.2891,"v":0.22},{"p":3,"t":59748.2933,"v":0.211},{"p":3,"t":59748.2968,"v":0.198},{"p":3,"t":59748.3002,"v":0.211},{"p":3,"t":59748.3044,"v":0.207},{"p":3,"t":59748.3078,"v":0.211},{"p":3,"t":59748.3113,"v":0.202},
{"p":4,"t":59750.0718,"v":0.184},{"p":4,"t":59750.0752,"v":0.178},{"p":4,"t":59750.0787,"v":0.183},{"p":4,"t":59750.0821,"v":0.188},{"p":4,"t":59750.0856,"v":0.19},{"p":4,"t":59750.0891,"v":0.192},{"p":4,"t":59750.0936,"v":0.195},{"p":4,"t":59750.097,"v":0.198},{"p":4,"t":59750.1012,"v":0.205},{"p":4,"t":59750.1046,"v":0.195},{"p":4,"t":59750.1081,"v":0.188},{"p":4,"t":59750.1115,"v":0.193},{"p":4,"t":59750.115,"v":0.195},{"p":4,"t":59750.1184,"v":0.199},{"p":4,"t":59750.1219,"v":0.202},{"p":4,"t":59750.1254,"v":0.2},{"p":4,"t":59750.1288,"v":0.205},{"p":4,"t":59750.1323,"v":0.21},{"p":4,"t":59750.1357,"v":0.21},{"p":4,"t":59750.1399,"v":0.207},{"p":4,"t":59750.1444,"v":0.202},{"p":4,"t":59750.1489,"v":0.2},{"p":4,"t":59750.153,"v":0.199},{"p":4,"t":59750.1572,"v":0.199},{"p":4,"t":59750.1617,"v":0.198},{"p":4,"t":59750.1662,"v":0.199},{"p":4,"t":59750.1703,"v":0.198},{"p":4,"t":59750.1745,"v":0.198},{"p":4,"t":59750.179,"v":0.2},{"p":4,"t":59750.1824,"v":0.207},{"p":4,"t":59750.1859,"v":0.215},{"p":4,"t":59750.1904,"v":0.213},{"p":4,"t":59750.1945,"v":0.212},{"p":4,"t":59750.1987,"v":0.211},{"p":4,"t":59750.2032,"v":0.21},{"p":4,"t":59750.2066,"v":0.207},{"p":4,"t":59750.2111,"v":0.21},{"p":4,"t":59750.2153,"v":0.211},{"p":4,"t":59750.2194,"v":0.21},{"p":4,"t":59750.2239,"v":0.208},{"p":4,"t":59750.2284,"v":0.21},{"p":4,"t":59750.2326,"v":0.21},{"p":4,"t":59750.2367,"v":0.211},{"p":4,"t":59750.2412,"v":0.211},{"p":4,"t":59750.2457,"v":0.213},{"p":4,"t":59750.2498,"v":0.211},{"p":4,"t":59750.254,"v":0.21},{"p":4,"t":59750.2585,"v":0.211},{"p":4,"t":59750.263,"v":0.211},{"p":4,"t":59750.2671,"v":0.213},{"p":4,"t":59750.2713,"v":0.216},{"p":4,"t":59750.2758,"v":0.211},{"p":4,"t":59750.2799,"v":0.207},{"p":4,"t":59750.2844,"v":0.206},{"p":4,"t":59750.2886,"v":0.205},{"p":4,"t":59750.2931,"v":0.203},{"p":4,"t":59750.2976,"v":0.2},{"p":4,"t":59750.301,"v":0.197},{"p":4,"t":59750.3045,"v":0.202}
]
},
"concat":[
 {"width":241,"height":310,"layer":[
  {"data":{"name":"xray"},"transform":[{"filter":"datum.p==1"}],"mark":{"type":"errorbar","ticks":false,"thickness":3,"color":"#330a43","clip":true},
   "encoding":{"x":{"field":"t","type":"quantitative","scale":{"domain":[59041.75,59042.0],"nice":false,"zero":false},"axis":{"orient":"bottom","labels":false,"ticks":false,"title":null}},
    "y":{"field":"v","type":"quantitative","scale":{"domain":[0,1.5],"nice":false,"zero":false},"axis":{"orient":"left","values":[0,0.25,0.5,0.75,1,1.25,1.5],"format":".2f","title":"0.2-2 keV count rate (s⁻¹)","minExtent":60,"maxExtent":60,"titlePadding":13}},
    "yError":{"field":"e"}}},
  {"data":{"name":"xray"},"transform":[{"filter":"datum.p==1"}],"mark":{"type":"circle","size":60,"color":"#330a43","opacity":1,"clip":true},
   "encoding":{"x":{"field":"t","type":"quantitative","axis":{"orient":"top","labels":false,"ticks":false,"title":null}},"y":{"field":"v","type":"quantitative","axis":null}}},
  {"data":{"values":[{"label":"2020"}]},"mark":{"type":"text","align":"left","baseline":"middle","fontSize":21,"color":"black"},
   "encoding":{"x":{"datum":59041.802,"type":"quantitative","axis":null},"y":{"datum":1.38,"type":"quantitative","axis":null},"text":{"field":"label"}}},
  {"data":{"values":[{}]},"mark":{"type":"point","shape":"M-0.7,1L0.7,-1","size":121,"filled":false,"color":"black","strokeWidth":2.5,"opacity":1},"encoding":{"x":{"datum":59042.0,"type":"quantitative","axis":null},"y":{"datum":0,"type":"quantitative","axis":null}}},
  {"data":{"values":[{}]},"mark":{"type":"point","shape":"M-0.7,1L0.7,-1","size":121,"filled":false,"color":"black","strokeWidth":2.5,"opacity":1},"encoding":{"x":{"datum":59042.0,"type":"quantitative","axis":null},"y":{"datum":1.5,"type":"quantitative","axis":null}}}
 ],"resolve":{"axis":{"x":"independent","y":"independent"}}},
 {"width":241,"height":310,"layer":[
  {"data":{"name":"xray"},"transform":[{"filter":"datum.p==2"}],"mark":{"type":"errorbar","ticks":false,"thickness":3,"color":"#330a43","clip":true},
   "encoding":{"x":{"field":"t","type":"quantitative","scale":{"domain":[59042.02,59042.27],"nice":false,"zero":false},"axis":{"orient":"bottom","labels":false,"ticks":false,"title":null}},
    "y":{"field":"v","type":"quantitative","scale":{"domain":[0,1.5],"nice":false,"zero":false},"axis":null},
    "yError":{"field":"e"}}},
  {"data":{"name":"xray"},"transform":[{"filter":"datum.p==2"}],"mark":{"type":"circle","size":60,"color":"#330a43","opacity":1,"clip":true},
   "encoding":{"x":{"field":"t","type":"quantitative","axis":{"orient":"top","labels":false,"ticks":false,"title":null}},"y":{"field":"v","type":"quantitative","axis":null}}},
  {"data":{"values":[{"label":"2020"}]},"mark":{"type":"text","align":"left","baseline":"middle","fontSize":21,"color":"black"},
   "encoding":{"x":{"datum":59042.052,"type":"quantitative","axis":null},"y":{"datum":1.38,"type":"quantitative","axis":null},"text":{"field":"label"}}},
  {"data":{"values":[{}]},"mark":{"type":"point","shape":"M-0.7,1L0.7,-1","size":121,"filled":false,"color":"black","strokeWidth":2.5,"opacity":1},"encoding":{"x":{"datum":59042.02,"type":"quantitative","axis":null},"y":{"datum":0,"type":"quantitative","axis":null}}},
  {"data":{"values":[{}]},"mark":{"type":"point","shape":"M-0.7,1L0.7,-1","size":121,"filled":false,"color":"black","strokeWidth":2.5,"opacity":1},"encoding":{"x":{"datum":59042.02,"type":"quantitative","axis":null},"y":{"datum":1.5,"type":"quantitative","axis":null}}},
  {"data":{"values":[{}]},"mark":{"type":"point","shape":"M-0.7,1L0.7,-1","size":121,"filled":false,"color":"black","strokeWidth":2.5,"opacity":1},"encoding":{"x":{"datum":59042.27,"type":"quantitative","axis":null},"y":{"datum":0,"type":"quantitative","axis":null}}},
  {"data":{"values":[{}]},"mark":{"type":"point","shape":"M-0.7,1L0.7,-1","size":121,"filled":false,"color":"black","strokeWidth":2.5,"opacity":1},"encoding":{"x":{"datum":59042.27,"type":"quantitative","axis":null},"y":{"datum":1.5,"type":"quantitative","axis":null}}}
 ],"resolve":{"axis":{"x":"independent","y":"independent"}}},
 {"width":241,"height":310,"layer":[
  {"data":{"name":"xray"},"transform":[{"filter":"datum.p==3"}],"mark":{"type":"errorbar","ticks":false,"thickness":3,"color":"#330a43","clip":true},
   "encoding":{"x":{"field":"t","type":"quantitative","scale":{"domain":[59748.1,59748.35],"nice":false,"zero":false},"axis":{"orient":"bottom","labels":false,"ticks":false,"title":null}},
    "y":{"field":"v","type":"quantitative","scale":{"domain":[0,1.5],"nice":false,"zero":false},"axis":null},
    "yError":{"field":"e"}}},
  {"data":{"name":"xray"},"transform":[{"filter":"datum.p==3"}],"mark":{"type":"circle","size":60,"color":"#330a43","opacity":1,"clip":true},
   "encoding":{"x":{"field":"t","type":"quantitative","axis":{"orient":"top","labels":false,"ticks":false,"title":null}},"y":{"field":"v","type":"quantitative","axis":null}}},
  {"data":{"values":[{"label":"2022A"}]},"mark":{"type":"text","align":"left","baseline":"middle","fontSize":21,"color":"black"},
   "encoding":{"x":{"datum":59748.1218,"type":"quantitative","axis":null},"y":{"datum":1.38,"type":"quantitative","axis":null},"text":{"field":"label"}}},
  {"data":{"values":[{}]},"mark":{"type":"point","shape":"M-0.7,1L0.7,-1","size":121,"filled":false,"color":"black","strokeWidth":2.5,"opacity":1},"encoding":{"x":{"datum":59748.1,"type":"quantitative","axis":null},"y":{"datum":0,"type":"quantitative","axis":null}}},
  {"data":{"values":[{}]},"mark":{"type":"point","shape":"M-0.7,1L0.7,-1","size":121,"filled":false,"color":"black","strokeWidth":2.5,"opacity":1},"encoding":{"x":{"datum":59748.1,"type":"quantitative","axis":null},"y":{"datum":1.5,"type":"quantitative","axis":null}}},
  {"data":{"values":[{}]},"mark":{"type":"point","shape":"M-0.7,1L0.7,-1","size":121,"filled":false,"color":"black","strokeWidth":2.5,"opacity":1},"encoding":{"x":{"datum":59748.35,"type":"quantitative","axis":null},"y":{"datum":0,"type":"quantitative","axis":null}}},
  {"data":{"values":[{}]},"mark":{"type":"point","shape":"M-0.7,1L0.7,-1","size":121,"filled":false,"color":"black","strokeWidth":2.5,"opacity":1},"encoding":{"x":{"datum":59748.35,"type":"quantitative","axis":null},"y":{"datum":1.5,"type":"quantitative","axis":null}}}
 ],"resolve":{"axis":{"x":"independent","y":"independent"}}},
 {"width":241,"height":310,"layer":[
  {"data":{"name":"xray"},"transform":[{"filter":"datum.p==4"}],"mark":{"type":"errorbar","ticks":false,"thickness":3,"color":"#330a43","clip":true},
   "encoding":{"x":{"field":"t","type":"quantitative","scale":{"domain":[59750.069,59750.319],"nice":false,"zero":false},"axis":{"orient":"bottom","labels":false,"ticks":false,"title":null}},
    "y":{"field":"v","type":"quantitative","scale":{"domain":[0,1.5],"nice":false,"zero":false},"axis":null},
    "yError":{"field":"e"}}},
  {"data":{"name":"xray"},"transform":[{"filter":"datum.p==4"}],"mark":{"type":"circle","size":60,"color":"#330a43","opacity":1,"clip":true},
   "encoding":{"x":{"field":"t","type":"quantitative","axis":{"orient":"top","labels":false,"ticks":false,"title":null}},"y":{"field":"v","type":"quantitative","axis":{"orient":"right","labels":false,"ticks":false,"title":null}}}},
  {"data":{"values":[{"label":"2022B"}]},"mark":{"type":"text","align":"left","baseline":"middle","fontSize":21,"color":"black"},
   "encoding":{"x":{"datum":59750.1012,"type":"quantitative","axis":null},"y":{"datum":1.38,"type":"quantitative","axis":null},"text":{"field":"label"}}},
  {"data":{"values":[{}]},"mark":{"type":"point","shape":"M-0.7,1L0.7,-1","size":121,"filled":false,"color":"black","strokeWidth":2.5,"opacity":1},"encoding":{"x":{"datum":59750.069,"type":"quantitative","axis":null},"y":{"datum":0,"type":"quantitative","axis":null}}},
  {"data":{"values":[{}]},"mark":{"type":"point","shape":"M-0.7,1L0.7,-1","size":121,"filled":false,"color":"black","strokeWidth":2.5,"opacity":1},"encoding":{"x":{"datum":59750.069,"type":"quantitative","axis":null},"y":{"datum":1.5,"type":"quantitative","axis":null}}}
 ],"resolve":{"axis":{"x":"independent","y":"independent"}}},
 {"width":241,"height":308,"layer":[
  {"data":{"values":[{}]},"mark":{"type":"rect","color":"#ebebeb"},"encoding":{"y":{"datum":0.313,"type":"quantitative","scale":{"domain":[0.1,0.551],"nice":false,"zero":false},"axis":null},"y2":{"datum":0.35}}},
  {"data":{"name":"check"},"transform":[{"filter":"datum.p==1"}],"mark":{"type":"circle","size":72,"opacity":0.3,"color":"#bbbbbb","clip":true},
   "encoding":{"x":{"field":"t","type":"quantitative","scale":{"domain":[59041.75,59042.0],"nice":false,"zero":false},"axis":null},"y":{"field":"v","type":"quantitative","axis":null}}},
  {"data":{"name":"radio"},"transform":[{"filter":"datum.p==1"}],"mark":{"type":"errorbar","ticks":false,"thickness":3,"color":"#12816f","clip":true},
   "encoding":{"x":{"field":"t","type":"quantitative","axis":{"orient":"bottom","values":[59041.8,59041.9],"format":".1f","labelAngle":-20,"labelAlign":"center","labelBaseline":"middle","labelPadding":14,"title":null}},
    "y":{"field":"v","type":"quantitative","axis":{"orient":"left","values":[0.1,0.2,0.3,0.4,0.5],"format":".1f","title":"6 GHz Flux density (mJy)","minExtent":60,"maxExtent":60,"titlePadding":13}},
    "yError":{"field":"e"}}},
  {"data":{"name":"radio"},"transform":[{"filter":"datum.p==1"}],"mark":{"type":"circle","size":70,"opacity":1,"clip":true},
   "encoding":{"x":{"field":"t","type":"quantitative","axis":null},"y":{"field":"v","type":"quantitative","axis":null},
    "color":{"datum":"RX J1302","type":"nominal","scale":{"domain":["RX J1302","Check source"],"range":["#12816f","#ebebeb"]},
     "legend":{"orient":"none","legendX":0,"legendY":10,"title":null,"labelFontSize":21,"labelFont":"DejaVu Sans","labelColor":"black","labelLimit":400,"symbolType":"circle","symbolSize":64,"symbolStrokeWidth":0,"symbolOpacity":1,"symbolOffset":11,"labelOffset":30,"padding":8,"rowPadding":14,"strokeColor":"#cccccc","fillColor":"white","cornerRadius":4}}}},
  {"data":{"values":[{}]},"mark":{"type":"point","shape":"M-0.7,1L0.7,-1","size":121,"filled":false,"color":"black","strokeWidth":2.5,"opacity":1},"encoding":{"x":{"datum":59042.0,"type":"quantitative","axis":null},"y":{"datum":0.1,"type":"quantitative","axis":null}}}
 ],"resolve":{"axis":{"x":"independent","y":"independent"}}},
 {"width":241,"height":308,"layer":[
  {"data":{"values":[{}]},"mark":{"type":"rect","color":"#ebebeb"},"encoding":{"y":{"datum":0.313,"type":"quantitative","scale":{"domain":[0.1,0.551],"nice":false,"zero":false},"axis":null},"y2":{"datum":0.35}}},
  {"data":{"name":"check"},"transform":[{"filter":"datum.p==2"}],"mark":{"type":"circle","size":72,"opacity":0.3,"color":"#bbbbbb","clip":true},
   "encoding":{"x":{"field":"t","type":"quantitative","scale":{"domain":[59042.02,59042.27],"nice":false,"zero":false},"axis":null},"y":{"field":"v","type":"quantitative","axis":null}}},
  {"data":{"name":"radio"},"transform":[{"filter":"datum.p==2"}],"mark":{"type":"errorbar","ticks":false,"thickness":3,"color":"#12816f","clip":true},
   "encoding":{"x":{"field":"t","type":"quantitative","axis":{"orient":"bottom","values":[59042.1,59042.2],"format":".1f","labelAngle":-20,"labelAlign":"center","labelBaseline":"middle","labelPadding":14,"title":"Time (MJD)","titleX":257,"titleY":88,"titleAlign":"center","titleBaseline":"alphabetic"}},
    "y":{"field":"v","type":"quantitative","axis":null},"yError":{"field":"e"}}},
  {"data":{"name":"radio"},"transform":[{"filter":"datum.p==2"}],"mark":{"type":"circle","size":70,"opacity":1,"color":"#12816f","clip":true},
   "encoding":{"x":{"field":"t","type":"quantitative","axis":null},"y":{"field":"v","type":"quantitative","axis":null}}},
  {"data":{"values":[{}]},"mark":{"type":"point","shape":"M-0.7,1L0.7,-1","size":121,"filled":false,"color":"black","strokeWidth":2.5,"opacity":1},"encoding":{"x":{"datum":59042.02,"type":"quantitative","axis":null},"y":{"datum":0.1,"type":"quantitative","axis":null}}},
  {"data":{"values":[{}]},"mark":{"type":"point","shape":"M-0.7,1L0.7,-1","size":121,"filled":false,"color":"black","strokeWidth":2.5,"opacity":1},"encoding":{"x":{"datum":59042.27,"type":"quantitative","axis":null},"y":{"datum":0.1,"type":"quantitative","axis":null}}}
 ],"resolve":{"axis":{"x":"independent","y":"independent"}}},
 {"width":241,"height":308,"layer":[
  {"data":{"values":[{}]},"mark":{"type":"rect","color":"#ebebeb"},"encoding":{"y":{"datum":0.313,"type":"quantitative","scale":{"domain":[0.1,0.551],"nice":false,"zero":false},"axis":null},"y2":{"datum":0.35}}},
  {"data":{"name":"check"},"transform":[{"filter":"datum.p==3"}],"mark":{"type":"circle","size":72,"opacity":0.3,"color":"#bbbbbb","clip":true},
   "encoding":{"x":{"field":"t","type":"quantitative","scale":{"domain":[59748.1,59748.35],"nice":false,"zero":false},"axis":null},"y":{"field":"v","type":"quantitative","axis":null}}},
  {"data":{"name":"radio"},"transform":[{"filter":"datum.p==3"}],"mark":{"type":"errorbar","ticks":false,"thickness":3,"color":"#12816f","clip":true},
   "encoding":{"x":{"field":"t","type":"quantitative","axis":{"orient":"bottom","values":[59748.1,59748.2,59748.3],"format":".1f","labelAngle":-20,"labelAlign":"center","labelBaseline":"middle","labelPadding":14,"title":null}},
    "y":{"field":"v","type":"quantitative","axis":null},"yError":{"field":"e"}}},
  {"data":{"name":"radio"},"transform":[{"filter":"datum.p==3"}],"mark":{"type":"circle","size":70,"opacity":1,"color":"#12816f","clip":true},
   "encoding":{"x":{"field":"t","type":"quantitative","axis":null},"y":{"field":"v","type":"quantitative","axis":null}}},
  {"data":{"values":[{}]},"mark":{"type":"point","shape":"M-0.7,1L0.7,-1","size":121,"filled":false,"color":"black","strokeWidth":2.5,"opacity":1},"encoding":{"x":{"datum":59748.1,"type":"quantitative","axis":null},"y":{"datum":0.1,"type":"quantitative","axis":null}}},
  {"data":{"values":[{}]},"mark":{"type":"point","shape":"M-0.7,1L0.7,-1","size":121,"filled":false,"color":"black","strokeWidth":2.5,"opacity":1},"encoding":{"x":{"datum":59748.35,"type":"quantitative","axis":null},"y":{"datum":0.1,"type":"quantitative","axis":null}}}
 ],"resolve":{"axis":{"x":"independent","y":"independent"}}},
 {"width":241,"height":308,"layer":[
  {"data":{"values":[{}]},"mark":{"type":"rect","color":"#ebebeb"},"encoding":{"y":{"datum":0.313,"type":"quantitative","scale":{"domain":[0.1,0.551],"nice":false,"zero":false},"axis":null},"y2":{"datum":0.35}}},
  {"data":{"name":"check"},"transform":[{"filter":"datum.p==4"}],"mark":{"type":"circle","size":72,"opacity":0.3,"color":"#bbbbbb","clip":true},
   "encoding":{"x":{"field":"t","type":"quantitative","scale":{"domain":[59750.069,59750.319],"nice":false,"zero":false},"axis":null},"y":{"field":"v","type":"quantitative","axis":null}}},
  {"data":{"name":"radio"},"transform":[{"filter":"datum.p==4"}],"mark":{"type":"errorbar","ticks":false,"thickness":3,"color":"#12816f","clip":true},
   "encoding":{"x":{"field":"t","type":"quantitative","axis":{"orient":"bottom","values":[59750.1,59750.2,59750.3],"format":".1f","labelAngle":-20,"labelAlign":"center","labelBaseline":"middle","labelPadding":14,"title":null}},
    "y":{"field":"v","type":"quantitative","axis":null},"yError":{"field":"e"}}},
  {"data":{"name":"radio"},"transform":[{"filter":"datum.p==4"}],"mark":{"type":"circle","size":70,"opacity":1,"color":"#12816f","clip":true},
   "encoding":{"x":{"field":"t","type":"quantitative","axis":null},"y":{"field":"v","type":"quantitative","axis":{"orient":"right","labels":false,"ticks":false,"title":null}}}},
  {"data":{"values":[{}]},"mark":{"type":"point","shape":"M-0.7,1L0.7,-1","size":121,"filled":false,"color":"black","strokeWidth":2.5,"opacity":1},"encoding":{"x":{"datum":59750.069,"type":"quantitative","axis":null},"y":{"datum":0.1,"type":"quantitative","axis":null}}}
 ],"resolve":{"axis":{"x":"independent","y":"independent"}}}
],
"columns":4,
"spacing":{"row":0,"column":11},
"bounds":"flush",
"resolve":{"scale":{"x":"independent","y":"independent","color":"independent"},"legend":{"color":"independent"}}
}
